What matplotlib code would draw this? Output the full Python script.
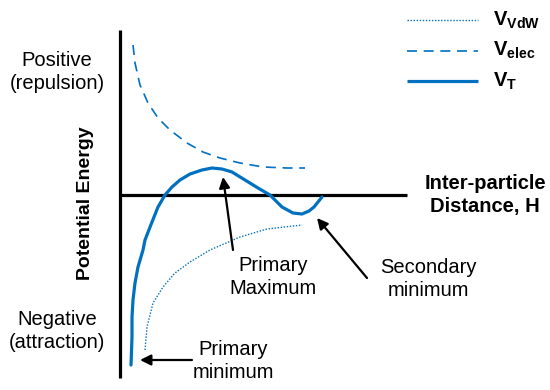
import matplotlib
matplotlib.use("Agg")
import matplotlib.pyplot as plt

plt.rcParams["font.family"] = ["Liberation Sans", "DejaVu Sans"]
plt.rcParams["mathtext.fontset"] = "custom"
plt.rcParams["mathtext.rm"] = "Liberation Sans"
plt.rcParams["mathtext.bf"] = "Liberation Sans:bold"

BLUE = "#0070C0"
FS = 14.5

# curves (x = distance from the energy axis, y = energy)
vt_x = [11, 12, 12, 13, 15, 18, 23, 25, 32, 38, 45, 52, 60, 70, 82, 92, 102, 112, 125, 138, 150,
        162, 173, 182, 189, 194, 198, 202]
vt_y = [-170, -142, -122, -105, -88, -72, -55, -45, -27, -12, 0, 8, 15, 21, 25, 27, 26, 23, 15, 7, 0,
        -12, -18, -19, -16, -12, -7, -2]

vdw_x = [25, 27, 33, 43, 55, 70, 90, 120, 147, 182]
vdw_y = [-155, -132, -108, -92, -78, -67, -55, -42, -34, -30]

elec_x = [13, 15, 20, 28, 38, 50, 67, 83, 100, 120, 143, 167, 185]
elec_y = [150, 132, 110, 92, 77, 65, 52, 43, 37, 32, 28, 27, 27]

legend_labels = [r"$\mathbf{V}_{\mathbf{VdW}}$", r"$\mathbf{V}_{\mathbf{elec}}$", r"$\mathbf{V}_{\mathbf{T}}$"]

styles = [dict(lw=1.0, ls=(0, (1, 1.2))),
          dict(lw=1.2, ls=(0, (6, 4))),
          dict(lw=2.3, ls="-")]

fig = plt.figure(figsize=(5.5, 3.9), dpi=100)
ax = fig.add_axes([0, 0, 1, 1])
ax.set_xlim(-120, 430)
ax.set_ylim(-195, 195)
ax.axis("off")

# axes lines
ax.plot([0, 0], [-183, 165], color="black", lw=2.3, solid_capstyle="butt")
ax.plot([0, 287], [0, 0], color="black", lw=2.3, solid_capstyle="butt")

# curves
ax.plot(vdw_x, vdw_y, color=BLUE, **styles[0])
ax.plot(elec_x, elec_y, color=BLUE, **styles[1])
ax.plot(vt_x, vt_y, color=BLUE, solid_capstyle="round", solid_joinstyle="round", **styles[2])

# legend drawn by hand
for i, (st, lab) in enumerate(zip(styles, legend_labels)):
    ly = 175 - 30.5 * i
    ax.plot([287, 358], [ly, ly], color=BLUE, solid_capstyle="butt", **st)
    ax.text(373, ly, lab, fontsize=FS, va="center", ha="left")

# text labels
ax.text(-63, 123, "Positive\n(repulsion)", fontsize=FS, ha="center", va="center", linespacing=1.25)
ax.text(-63, -136, "Negative\n(attraction)", fontsize=FS, ha="center", va="center", linespacing=1.25)
ax.text(-35, -8, "Potential Energy", fontsize=14, fontweight="bold", rotation=90,
        ha="center", va="center")
ax.text(365, 0, "Inter-particle\nDistance, H", fontsize=FS, fontweight="bold",
        ha="center", va="center", linespacing=1.25)

arrow = dict(arrowstyle="-|>", color="black", lw=1.6, mutation_scale=16, shrinkA=0, shrinkB=0)
ax.annotate("", xy=(103, 18), xytext=(113, -55), arrowprops=arrow)
ax.text(153, -82, "Primary\nMaximum", fontsize=FS, ha="center", va="center", linespacing=1.25)

ax.annotate("", xy=(197, -23), xytext=(247, -83), arrowprops=arrow)
ax.text(308, -84, "Secondary\nminimum", fontsize=FS, ha="center", va="center", linespacing=1.25)

ax.annotate("", xy=(20, -165), xytext=(72, -165), arrowprops=arrow)
ax.text(113, -166, "Primary\nminimum", fontsize=FS, ha="center", va="center", linespacing=1.25)

fig.savefig("out.png", dpi=100)
